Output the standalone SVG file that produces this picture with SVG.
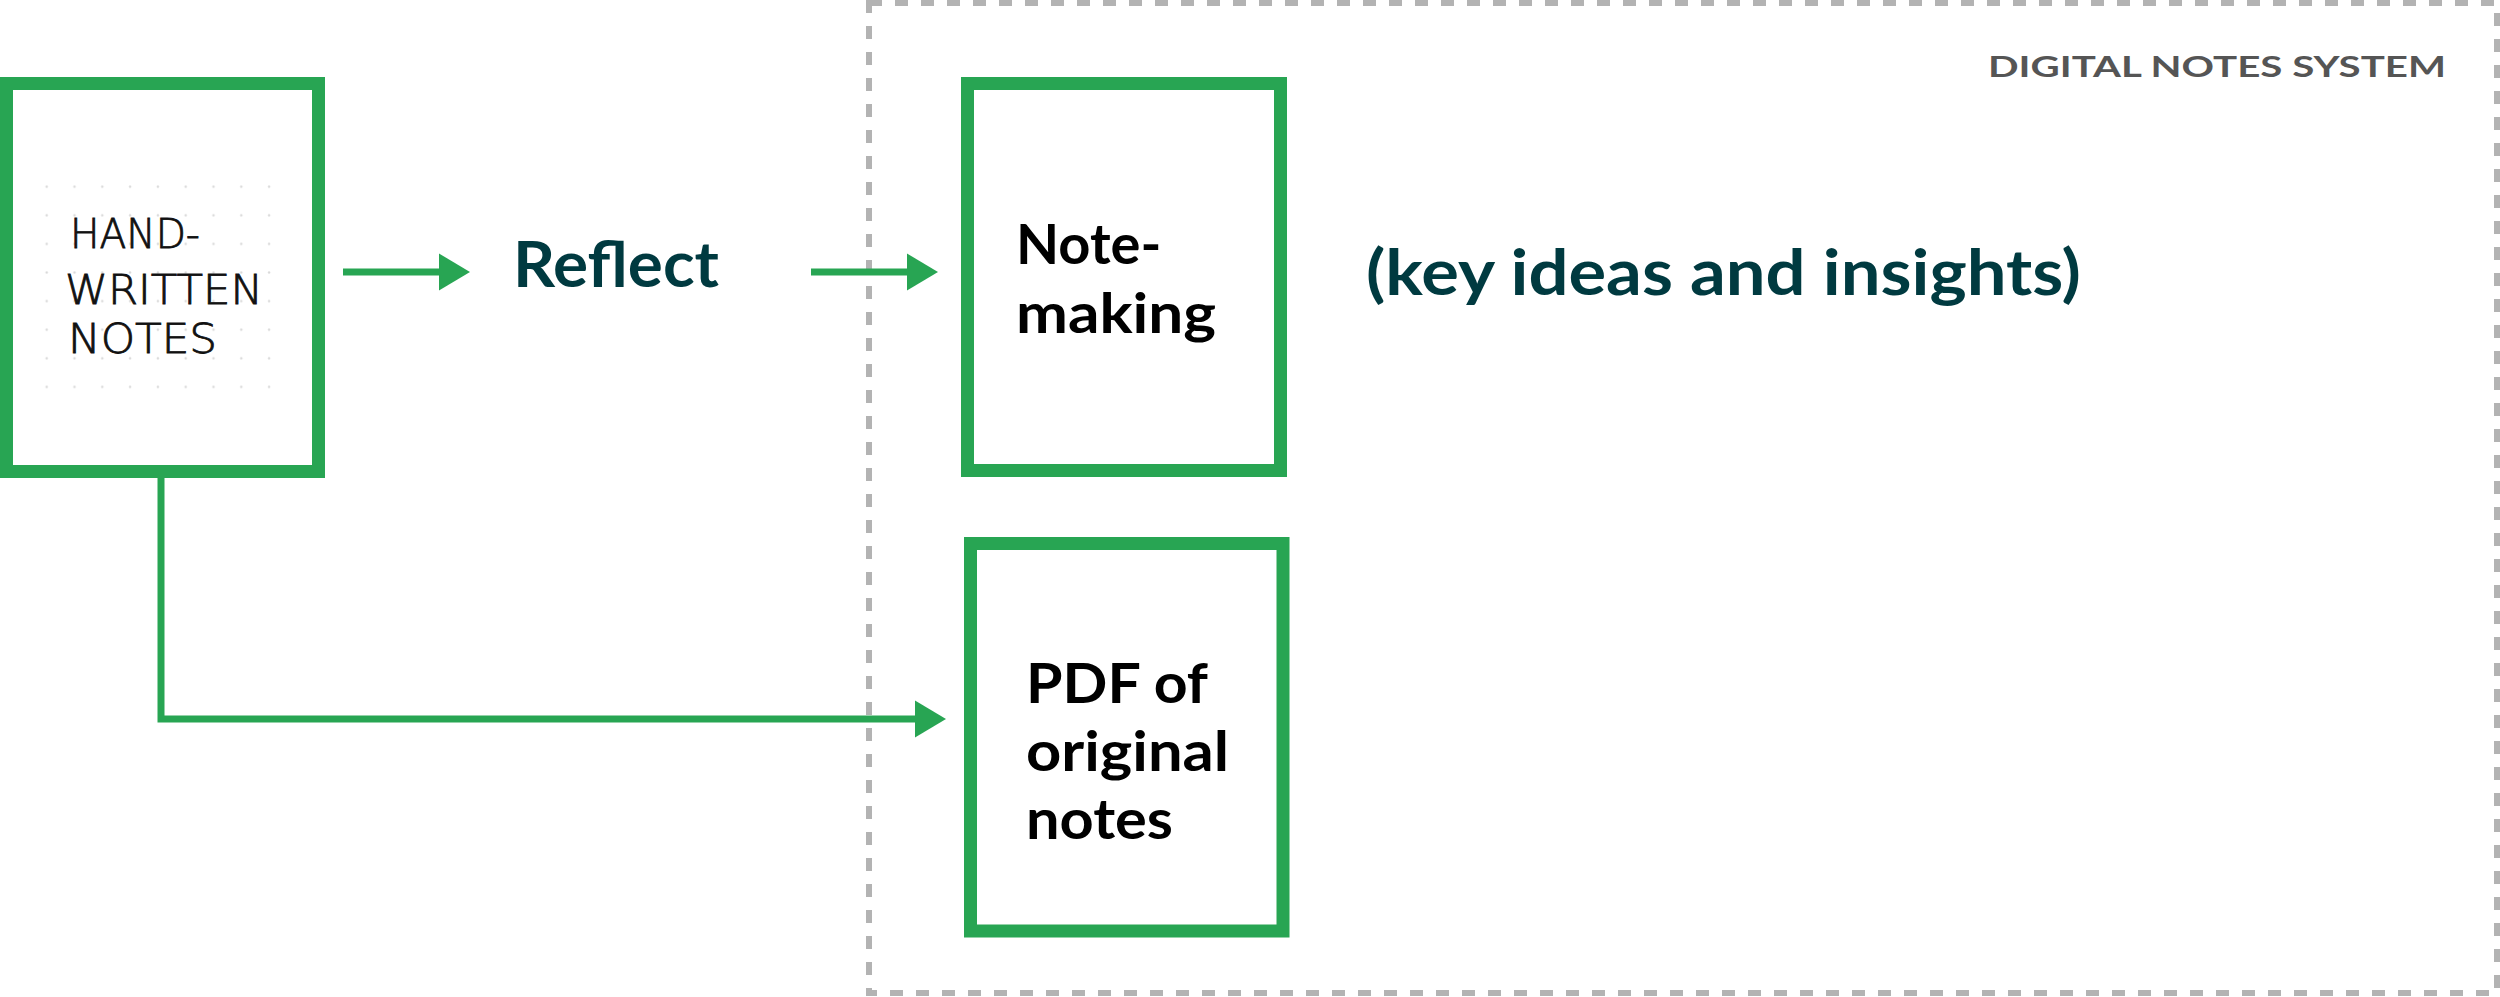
<svg xmlns="http://www.w3.org/2000/svg" width="2500" height="997" viewBox="0 0 2500 997">
  <style>
    .box { fill: #ffffff; stroke: #28a553; stroke-width: 13; }
    .conn { fill: none; stroke: #28a553; stroke-width: 7; }
    .label { font-family: Lato, "Liberation Sans", sans-serif; font-weight: 700; fill: #003a40; font-size: 64px; }
    .node { font-family: Lato, "Liberation Sans", sans-serif; font-weight: 700; fill: #000000; font-size: 56px; }
    .hand { font-family: "DejaVu Sans", "Liberation Sans", sans-serif; font-weight: 200; fill: #111111; stroke: #111111; stroke-width: 0.8; font-size: 40px; }
    .sys { font-family: Lato, "Liberation Sans", sans-serif; font-weight: 700; fill: #555555; font-size: 28px; }
  </style>
  <defs>
    <marker id="arrow" markerUnits="userSpaceOnUse" markerWidth="32" markerHeight="37" refX="2" refY="18.5" orient="auto" overflow="visible">
      <path d="M0,0 L31,18.5 L0,37 Z" fill="#28a553"/>
    </marker>
    <pattern id="dots" patternUnits="userSpaceOnUse" x="32.8" y="172.4" width="27.8" height="28.6">
      <circle cx="13.9" cy="14.3" r="1.2" fill="#d9d9d9"/>
    </pattern>
  </defs>

  <rect x="0" y="0" width="2500" height="997" fill="#ffffff"/>

  <g id="digital-notes-system">
    <rect x="869" y="3" width="1628" height="990" fill="none" stroke="#b3b3b3" stroke-width="6" stroke-dasharray="13 13"/>
    <text class="sys" x="2446" y="77" text-anchor="end" textLength="458" lengthAdjust="spacingAndGlyphs">DIGITAL NOTES SYSTEM</text>
  </g>

  <g id="connectors">
    <line class="conn" x1="343" y1="272" x2="441" y2="272" marker-end="url(#arrow)"/>
    <line class="conn" x1="811" y1="272" x2="909" y2="272" marker-end="url(#arrow)"/>
    <path class="conn" d="M161,477 V719 H917" marker-end="url(#arrow)"/>
  </g>

  <g id="handwritten-notes">
    <rect class="box" x="6.5" y="83.5" width="312" height="388"/>
    <rect x="32.8" y="172.4" width="250.2" height="228.8" fill="url(#dots)"/>
    <text class="hand" x="70" y="248" textLength="130" lengthAdjust="spacingAndGlyphs">HAND-</text>
    <text class="hand" x="65" y="304" textLength="198" lengthAdjust="spacingAndGlyphs">WRITTEN</text>
    <text class="hand" x="68" y="353" textLength="149" lengthAdjust="spacingAndGlyphs">NOTES</text>
  </g>

  <g id="reflect">
    <text class="label" x="513" y="287" textLength="206" lengthAdjust="spacingAndGlyphs">Reflect</text>
  </g>

  <g id="note-making">
    <rect class="box" x="967.5" y="83.5" width="313" height="387"/>
    <text class="node" x="1016" y="264">Note-</text>
    <text class="node" x="1016" y="333" textLength="200" lengthAdjust="spacingAndGlyphs">making</text>
  </g>

  <g id="key-ideas">
    <text class="label" x="1366" y="295" textLength="715" lengthAdjust="spacingAndGlyphs">(key ideas and insights)</text>
  </g>

  <g id="pdf-original-notes">
    <rect class="box" x="970.5" y="543.5" width="312.5" height="387.5"/>
    <text class="node" x="1026" y="703" textLength="182" lengthAdjust="spacingAndGlyphs">PDF of</text>
    <text class="node" x="1026" y="771" textLength="203" lengthAdjust="spacingAndGlyphs">original</text>
    <text class="node" x="1026" y="839" textLength="147" lengthAdjust="spacingAndGlyphs">notes</text>
  </g>
</svg>
